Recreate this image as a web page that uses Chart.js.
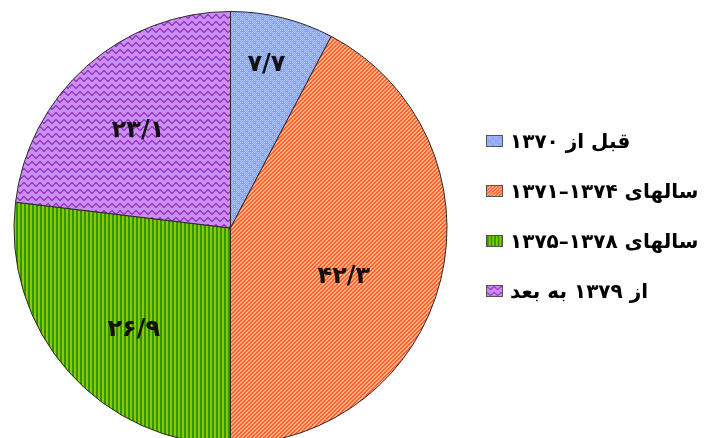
<!DOCTYPE html>
<html>
<head>
<meta charset="utf-8">
<script src="https://cdn.jsdelivr.net/npm/chart.js@4"></script>
<style>
  html, body { margin: 0; padding: 0; background: #fff; overflow: hidden; width: 707px; height: 438px; }
  #wrap { position: absolute; left: 0; top: 0; width: 707px; height: 450px; }
  #legend { position: absolute; left: 486px; top: 116px; font-family: "DejaVu Sans", sans-serif; font-weight: bold; font-size: 20px; color: #000; }
  .row { display: flex; align-items: center; height: 50px; }
  .row canvas { width: 17px; height: 12px; border: 1px solid #555; box-sizing: border-box; margin-right: 7px; }
  .row span { direction: rtl; unicode-bidi: embed; white-space: nowrap; }
</style>
</head>
<body>
<div id="wrap"><canvas id="pie" width="707" height="450"></canvas></div>
<div id="legend"></div>
<script>
//Dados
const labels = ['قبل از ۱۳۷۰', 'سالهای \u2066۱۳۷۱–۱۳۷۴\u2069', 'سالهای \u2066۱۳۷۵–۱۳۷۸\u2069', 'از ۱۳۷۹ به بعد']
const values = [7.7, 42.3, 26.9, 23.1]

//Numero para algarismos persas (7.7 -> ۷/۷)
const paraPersa = v => String(v).replace(/\d/g, d => '۰۱۲۳۴۵۶۷۸۹'[d]).replace('.', '/')

//Padroes de preenchimento
function criarPadrao(w, h, desenhar) {
    const c = document.createElement('canvas')
    c.width = w; c.height = h
    const ctx = c.getContext('2d')
    desenhar(ctx)
    return ctx.createPattern(c, 'repeat')
}

const padraoAzul = ctx => {
    ctx.fillStyle = '#88a2fa'
    ctx.fillRect(0, 0, 8, 8)
    ctx.fillStyle = '#b0c1ff'
    for (let x = 0; x < 8; x++) {
        for (let y = 0; y < 8; y++) {
            const bloco = (Math.floor(x / 4) + Math.floor(y / 4)) % 2
            if ((x + y) % 2 === 0 && (bloco === 0 || x % 2 === 0)) ctx.fillRect(x, y, 1, 1)
        }
    }
}
const padraoLaranja = ctx => {
    for (let x = 0; x < 4; x++) {
        for (let y = 0; y < 4; y++) {
            ctx.fillStyle = (x + y) % 4 < 2 ? '#ff6130' : '#ffb184'
            ctx.fillRect(x, y, 1, 1)
        }
    }
}
const padraoVerde = ctx => {
    ctx.fillStyle = '#2f9600'
    ctx.fillRect(0, 0, 2, 1)
    ctx.fillStyle = '#8fc800'
    ctx.fillRect(2, 0, 2, 1)
}
const padraoRoxo = ctx => {
    ctx.fillStyle = '#c98ef0'
    ctx.fillRect(0, 0, 8, 7)
    ctx.fillStyle = '#9a3acb'
    for (let x = 0; x < 8; x++) {
        const y = x < 4 ? x : 7 - x
        ctx.fillRect(x, y, 1, 2)
    }
}

const padroes = [
    criarPadrao(8, 8, padraoAzul),
    criarPadrao(4, 4, padraoLaranja),
    criarPadrao(4, 1, padraoVerde),
    criarPadrao(8, 7, padraoRoxo)
]

//Rotulos dentro das fatias
const rotulos = {
    id: 'rotulos',
    afterDatasetsDraw(chart, args, opts) {
        const ctx = chart.ctx
        const meta = chart.getDatasetMeta(0)
        ctx.save()
        ctx.font = 'bold 24px "DejaVu Sans"'
        ctx.fillStyle = '#111'
        ctx.textAlign = 'center'
        ctx.textBaseline = 'middle'
        meta.data.forEach((arc, i) => {
            const p = arc.getProps(['x', 'y', 'startAngle', 'endAngle', 'outerRadius'], true)
            const meio = (p.startAngle + p.endAngle) / 2 + opts.desvio[i] * Math.PI / 180
            const r = p.outerRadius * opts.frac[i]
            ctx.fillText(paraPersa(values[i]), p.x + Math.cos(meio) * r, p.y + Math.sin(meio) * r)
        })
        ctx.restore()
    }
}

//Grafico de pizza
let ctxPizza = document.getElementById('pie')
let pizza = new Chart(ctxPizza, {
    type: 'pie',
    data: {
        labels: labels,
        datasets: [{
            data: values,
            backgroundColor: padroes,
            borderColor: '#2a2a2a',
            borderWidth: 1,
            hoverOffset: 0
        }]
    },
    options: {
        responsive: false,
        animation: false,
        layout: { padding: { left: 13, right: 259, top: 11, bottom: 5 } },
        plugins: {
            legend: { display: false },
            tooltip: { enabled: false },
            rotulos: { frac: [0.77, 0.57, 0.65, 0.62], desvio: [-1.4, 9.4, -5, -2] }
        }
    },
    plugins: [rotulos]
})

//Legenda
const legenda = document.getElementById('legend')
labels.forEach((nome, i) => {
    const linha = document.createElement('div')
    linha.className = 'row'
    const caixa = document.createElement('canvas')
    caixa.width = 17; caixa.height = 12
    const cctx = caixa.getContext('2d')
    cctx.fillStyle = padroes[i]
    cctx.fillRect(0, 0, 17, 12)
    const texto = document.createElement('span')
    texto.textContent = nome
    linha.appendChild(caixa)
    linha.appendChild(texto)
    legenda.appendChild(linha)
})
</script>
</body>
</html>
